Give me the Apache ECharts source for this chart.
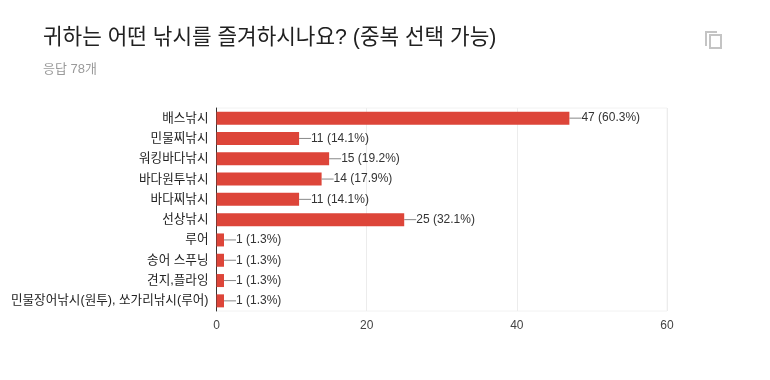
<!DOCTYPE html>
<html>
<head>
<meta charset="utf-8">
<style>
  html, body { margin: 0; padding: 0; background: #fff; }
  #chart { width: 770px; height: 380px; }
</style>
<script src="https://cdn.jsdelivr.net/npm/echarts@6/dist/echarts.min.js"></script>
</head>
<body>
<div id="chart"></div>
<script>
const fontFamily = '"Liberation Sans", "Noto Sans CJK KR", sans-serif';

const categories = [
  '배스낚시', '민물찌낚시', '워킹바다낚시', '바다원투낚시', '바다찌낚시',
  '선상낚시', '루어', '송어 스푸닝', '견지,플라잉', '민물장어낚시(원투), 쏘가리낚시(루어)'
];
const counts = [47, 11, 15, 14, 11, 25, 1, 1, 1, 1];
const percents = ['60.3', '14.1', '19.2', '17.9', '14.1', '32.1', '1.3', '1.3', '1.3', '1.3'];

const chart = echarts.init(document.getElementById('chart'));

chart.setOption({
  animation: false,
  textStyle: { fontFamily },
  title: {
    text: '귀하는 어떤 낚시를 즐겨하시나요? (중복 선택 가능)',
    left: 43,
    top: 27,
    padding: 0,
    textStyle: { fontSize: 21.3, fontWeight: 'normal', color: '#212121', fontFamily },
    subtext: '응답 78개',
    subtextStyle: { fontSize: 13, color: '#9a9a9a', fontFamily },
    itemGap: 15
  },
  grid: {
    left: 216.5,
    right: 103,
    top: 108,
    bottom: 69,
    show: true,
    borderColor: '#f2f2f2',
    borderWidth: 1
  },
  xAxis: {
    type: 'value',
    min: 0,
    max: 60,
    interval: 20,
    axisLine: { show: false },
    axisTick: { show: false },
    axisLabel: { color: '#444', fontSize: 12, margin: 9 },
    splitLine: { lineStyle: { color: '#ececec', width: 1 } }
  },
  yAxis: {
    type: 'category',
    inverse: true,
    data: categories,
    axisLine: { show: true, onZero: false, lineStyle: { color: '#333', width: 1 } },
    axisTick: { show: false },
    axisLabel: { color: '#222', fontSize: 12.6, margin: 8 }
  },
  series: [{
    type: 'bar',
    data: counts,
    barWidth: 13,
    itemStyle: { color: '#dd4539' },
    label: {
      show: true,
      position: 'right',
      distance: 0,
      color: '#333',
      fontSize: 12,
      formatter: p => `${counts[p.dataIndex]} (${percents[p.dataIndex]}%)`
    },
    labelLayout: { dx: 12 },
    labelLine: { show: true, lineStyle: { color: '#888', width: 1 } }
  }],
  graphic: [
    // copy icon, top right
    { type: 'polyline', shape: { points: [[706, 46], [706, 32], [717, 32]] }, style: { stroke: '#c4c4c4', lineWidth: 2, fill: null } },
    { type: 'rect', shape: { x: 710, y: 35, width: 11, height: 13 }, style: { stroke: '#c4c4c4', lineWidth: 2, fill: '#fff' } }
  ]
});
</script>
</body>
</html>
